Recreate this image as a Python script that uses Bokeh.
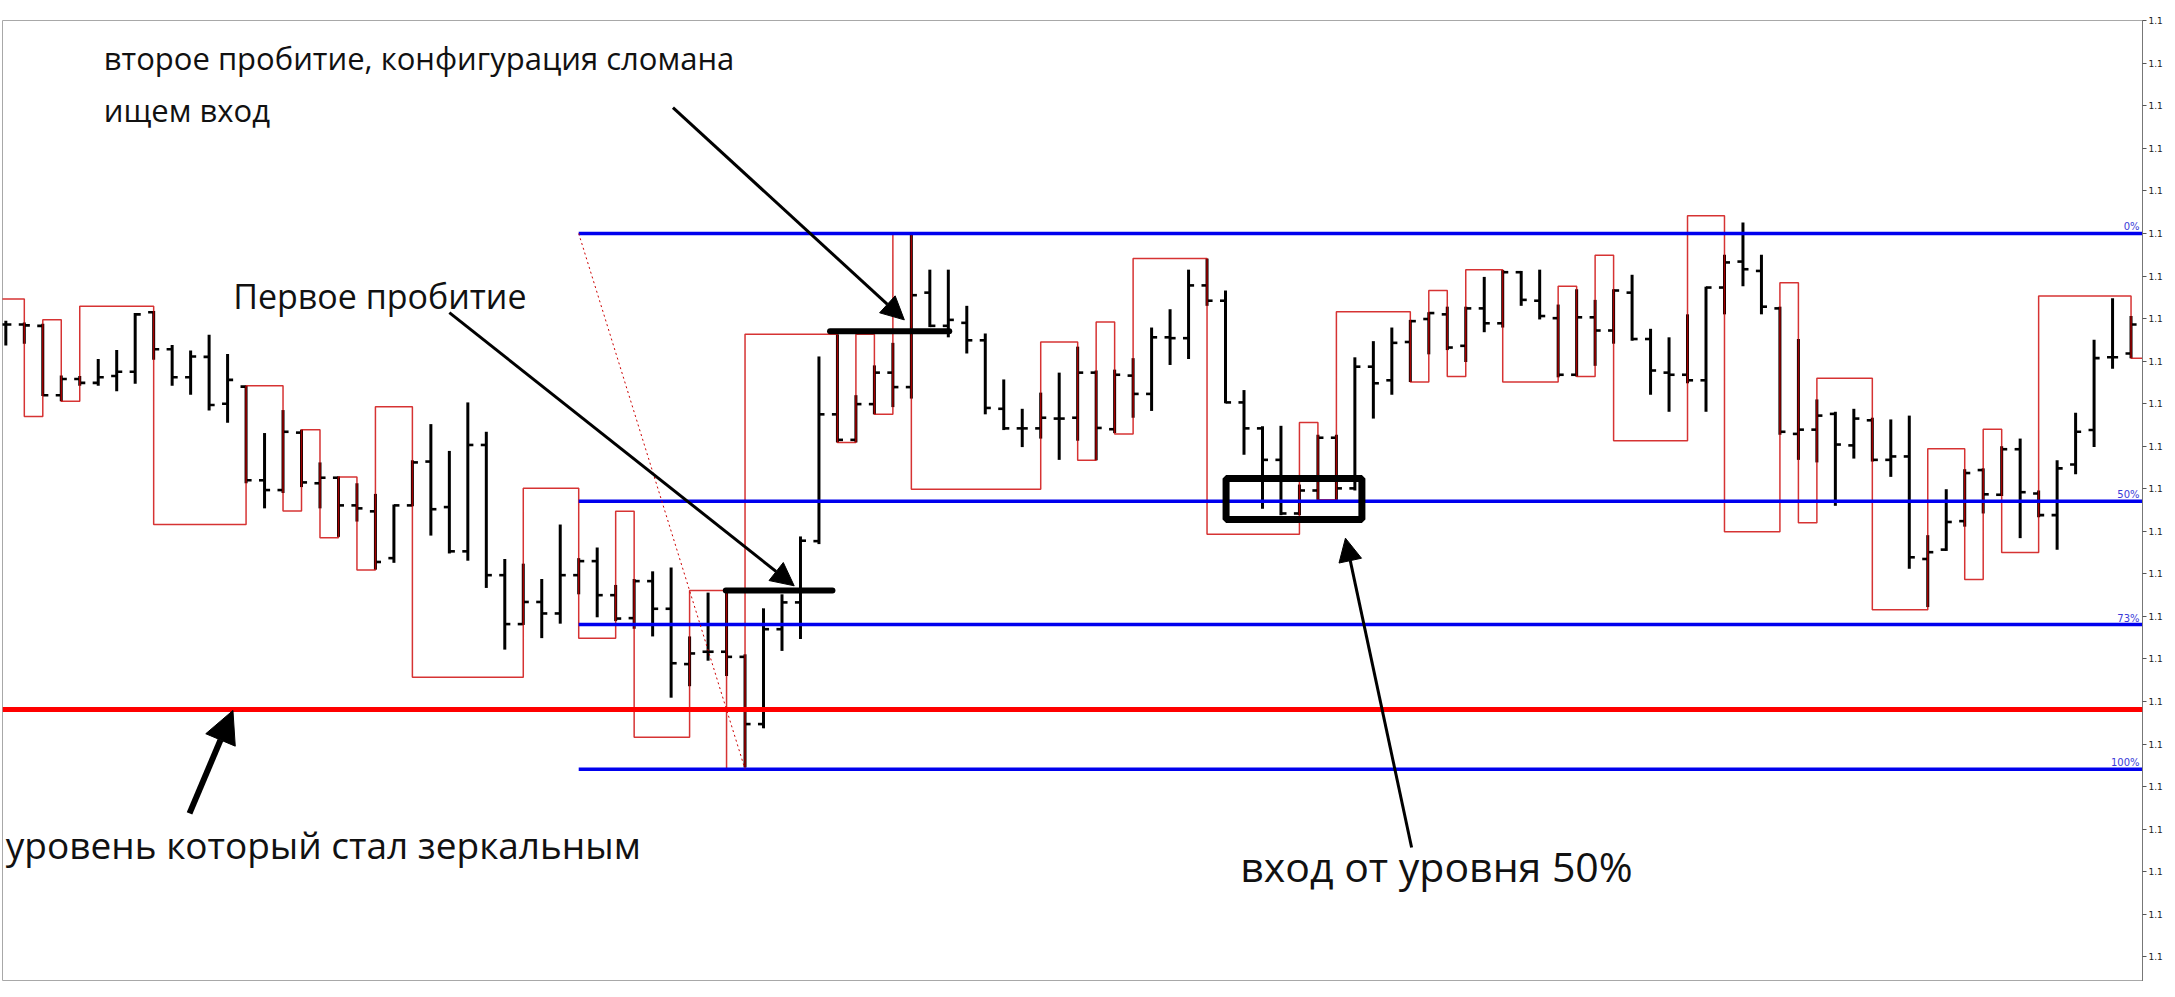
import numpy as np
from bokeh.plotting import figure
from bokeh.models import (Range1d, LinearAxis, FixedTicker, PrintfTickFormatter,
                          Span, Arrow, NormalHead, ColumnDataSource)
from bokeh.core.properties import value
from bokeh.embed import file_html
from bokeh.resources import INLINE

# ---------------- data (prices expressed in pips from the 0% Fibonacci level) ----------------
BASE_PRICE = 1.1340      # price of the 0 % Fibonacci level
PIP = 0.0001

bar_open = [-21.4, -21.4, -21.7, -38.0, -34.2, -35.1, -33.5, -32.5, -18.5, -27.2,
            -33.8, -29.0, -40.0, -36.0, -58.0, -60.3, -46.8, -58.7, -57.4, -63.9,
            -65.3, -76.3, -63.9, -53.6, -64.3, -74.7, -49.7, -80.3, -91.8, -86.6,
            -89.3, -80.3, -77.0, -85.0, -90.4, -81.7, -88.2, -101.2, -98.3, -98.3,
            -99.5, -115.3, -93.0, -86.7, -72.3, -42.5, -48.5, -40.1, -32.7, -36.1,
            -13.9, -21.7, -21.0, -25.1, -41.2, -45.8, -45.8, -43.5, -43.3, -32.7,
            -46.0, -33.4, -37.7, -24.4, -24.6, -12.2, -15.8, -39.7, -45.8, -53.2,
            -65.8, -60.4, -48.0, -59.9, -31.3, -34.5, -25.5, -20.1, -19.0, -26.4,
            -17.6, -21.1, -9.1, -15.8, -19.9, -33.2, -19.7, -22.8, -13.9, -24.8,
            -32.7, -33.2, -34.5, -12.7, -6.6, -8.8, -17.6, -47.1, -46.1, -42.4,
            -49.8, -43.9, -53.2, -52.4, -76.5, -74.3, -67.6, -55.6, -61.4, -50.7,
            -61.1, -66.2, -54.3, -46.2, -29.1, -28.2]
bar_high = [-20.5, -20.9, -21.2, -33.4, -33.5, -29.5, -27.4, -18.7, -18.2, -26.2,
            -27.5, -23.8, -28.3, -35.8, -46.9, -41.5, -46.1, -53.8, -57.1, -58.7,
            -61.2, -63.7, -53.3, -44.8, -51.1, -39.7, -46.6, -76.5, -77.6, -81.2,
            -68.4, -76.3, -73.8, -82.6, -81.2, -79.4, -78.5, -94.7, -84.4, -84.5,
            -98.9, -88.1, -84.8, -71.2, -28.9, -23.7, -38.0, -31.0, -25.7, 0.0,
            -8.5, -8.5, -17.0, -23.5, -34.3, -41.2, -37.4, -32.7, -26.6, -32.2,
            -32.0, -29.3, -22.1, -17.8, -8.5, -5.9, -13.4, -36.8, -45.3, -45.2,
            -59.0, -47.3, -47.3, -29.1, -25.3, -22.1, -20.3, -18.5, -17.2, -17.2,
            -10.2, -8.6, -8.8, -8.5, -16.7, -13.1, -15.6, -13.1, -9.7, -22.4,
            -24.4, -19.0, -12.5, -5.0, 2.6, -5.0, -17.2, -24.8, -39.0, -41.9,
            -41.2, -43.3, -43.7, -42.8, -70.9, -60.1, -55.4, -55.2, -50.0, -48.2,
            -60.4, -53.3, -42.1, -25.0, -15.2, -19.4]
bar_low = [-26.3, -25.9, -38.2, -39.4, -35.8, -35.8, -37.1, -35.3, -29.7, -35.8,
           -37.9, -41.6, -44.5, -58.7, -64.6, -61.0, -59.6, -64.6, -71.3, -67.7,
           -79.0, -77.4, -64.1, -71.0, -75.2, -76.9, -83.3, -97.8, -92.0, -95.1,
           -91.7, -84.8, -90.2, -91.1, -92.9, -94.7, -109.1, -106.4, -100.4, -104.0,
           -125.5, -116.3, -98.1, -95.3, -73.0, -49.1, -49.1, -42.5, -40.8, -38.8,
           -22.0, -24.4, -28.2, -42.5, -46.2, -50.2, -48.2, -53.2, -48.7, -53.3,
           -46.9, -43.3, -41.7, -30.9, -29.5, -17.0, -39.9, -52.0, -64.7, -66.2,
           -66.2, -62.6, -62.6, -60.4, -43.5, -37.9, -34.9, -28.4, -27.4, -30.2,
           -23.2, -22.1, -17.0, -20.2, -33.8, -33.6, -31.1, -25.9, -25.2, -37.9,
           -41.9, -35.2, -41.9, -19.0, -12.4, -19.0, -47.3, -53.2, -53.8, -64.0,
           -52.9, -53.6, -57.2, -78.8, -87.8, -74.6, -68.9, -65.8, -61.7, -71.6,
           -66.7, -74.3, -56.6, -50.2, -31.8, -29.3]
bar_close = [-21.4, -21.6, -38.0, -34.2, -35.1, -33.8, -32.5, -19.0, -27.2, -33.8,
             -28.9, -40.3, -34.4, -58.0, -60.3, -46.6, -58.5, -57.4, -63.9, -64.6,
             -77.2, -63.9, -53.8, -64.8, -74.7, -49.7, -80.3, -91.8, -86.6, -89.3,
             -80.3, -77.0, -85.0, -90.5, -81.7, -88.2, -101.0, -98.7, -98.3, -99.5,
             -115.3, -93.0, -86.7, -72.2, -42.5, -48.5, -40.1, -32.7, -36.1, -14.5,
             -21.7, -20.3, -25.1, -41.0, -45.8, -45.8, -43.3, -43.5, -32.7, -45.7,
             -33.2, -37.7, -24.4, -24.6, -12.2, -15.8, -39.7, -45.8, -53.2, -65.8,
             -60.4, -48.0, -59.9, -31.3, -35.2, -25.7, -20.6, -18.7, -26.8, -17.6,
             -21.1, -9.1, -15.6, -19.4, -33.2, -19.7, -22.8, -13.4, -24.8, -32.2,
             -33.2, -34.5, -12.7, -6.8, -8.4, -17.2, -46.6, -46.1, -42.8, -49.6,
             -43.5, -53.2, -52.4, -76.1, -74.9, -67.8, -56.3, -61.3, -50.7, -60.8,
             -66.2, -55.2, -46.6, -29.3, -29.1, -21.4]

# red stepped line (bar index where each level starts, level)
step_bar = [-1, 1, 2, 3, 4, 8, 13, 15, 16, 17, 18, 19, 20, 22, 28, 31, 33, 34, 37, 39,
            40, 45, 46, 47, 48, 49, 56, 58, 59, 60, 61, 65, 70, 71, 72, 76, 77, 78, 79, 81,
            84, 85, 86, 87, 91, 93, 96, 97, 98, 101, 104, 106, 107, 108, 110, 115, 117]
step_level = [-15.4, -43.0, -20.3, -39.4, -17.1, -68.4, -35.8, -65.2, -46.1, -71.5,
              -57.2, -79.1, -40.7, -104.3, -59.9, -95.1, -65.3, -118.4, -83.9, -125.9,
              -23.7, -49.1, -23.7, -42.5, 0.0, -60.1, -25.5, -53.3, -20.8, -47.1,
              -5.9, -70.7, -44.4, -62.6, -18.4, -34.9, -13.4, -33.6, -8.5, -34.9,
              -12.4, -33.6, -5.1, -48.7, 4.2, -70.1, -11.6, -68.0, -34.0, -88.4,
              -50.6, -81.3, -46.0, -75.0, -14.7, -29.3, -29.3]

# Fibonacci grid
fib_high = 0.0
fib_low = -125.9
fib_ratios = [0.0, 0.5, 0.73, 1.0]
fib_labels = ["0%", "50%", "73%", "100%"]
fib_start_bar = 31
fib_end_bar = 40

mirror_level = -111.9          # thick red level

# thick black breakout marks
mark_x0 = [38.96, 44.6]
mark_x1 = [44.73, 51.05]
mark_level = [-83.9, -23.0]

# entry box
box_left, box_right, box_top, box_bottom = 66.03, 73.38, -57.6, -67.2

# arrows: (x_start, y_start, x_end, y_end, width)
arrow_x0 = [36.1, 24.0, 9.94, 76.07]
arrow_y0 = [29.6, -18.6, -136.3, -144.3]
arrow_x1 = [48.62, 42.66, 12.29, 72.49]
arrow_y1 = [-20.3, -82.8, -112.1, -71.6]
arrow_w = [3, 3, 6, 3]

# texts
note_text = ["второе пробитие, конфигурация сломана", "ищем вход", "Первое пробитие",
             "уровень который стал зеркальным", "вход от уровня 50%"]
note_x = [5.3, 5.3, 12.3, 0.0, 66.8]
note_y = [41.2, 29.0, -14.6, -143.5, -148.6]
note_size = ["31px", "31px", "34px", "37px", "41px"]

price_ticks = [1.117, 1.118, 1.119, 1.120, 1.121, 1.122, 1.123, 1.124, 1.125, 1.126, 1.127,
               1.128, 1.129, 1.130, 1.131, 1.132, 1.133, 1.134, 1.135, 1.136, 1.137, 1.138, 1.139]

# ---------------- helpers ----------------
def price(a):
    return BASE_PRICE + np.asarray(a, dtype=float) * PIP

X_START, X_END = -0.18, 115.62
Y_LOW, Y_HIGH = -175.8, 50.06
TICK = 0.3

p = figure(frame_width=2140, frame_height=961,
           x_range=Range1d(X_START, X_END), y_range=Range1d(price(Y_LOW), price(Y_HIGH)),
           output_backend="svg", toolbar_location=None,
           x_axis_location=None, y_axis_location=None,
           min_border_left=2, min_border_right=0, min_border_top=20, min_border_bottom=0,
           background_fill_color="white", border_fill_color="white")
p.outline_line_color = "#a8a8a8"
p.outline_line_width = 1
for g in p.grid:
    g.visible = False

yaxis = LinearAxis(ticker=FixedTicker(ticks=price_ticks), formatter=PrintfTickFormatter(format="1.1"))
yaxis.axis_line_color = "#777777"
yaxis.major_tick_in = 0
yaxis.major_tick_out = 4
yaxis.major_tick_line_color = "#555555"
yaxis.minor_tick_line_color = None
yaxis.major_label_text_font = "DejaVu Sans"
yaxis.major_label_text_font_size = "9px"
yaxis.major_label_text_color = "#222222"
yaxis.major_label_standoff = 2
p.add_layout(yaxis, "right")

# OHLC bars
bars = np.arange(len(bar_open))
src = ColumnDataSource(dict(x=bars, xo=bars - TICK, xc=bars + TICK,
                            o=price(bar_open), h=price(bar_high),
                            l=price(bar_low), c=price(bar_close)))
p.segment("x", "l", "x", "h", source=src, line_color="black", line_width=3)
p.segment("xo", "o", "x", "o", source=src, line_color="black", line_width=2.6)
p.segment("x", "c", "xc", "c", source=src, line_color="black", line_width=2.6)

# red stepped line
p.step(x=step_bar, y=price(step_level), mode="after",
       line_color="#cc0000", line_width=1.5, line_alpha=0.8)

# Fibonacci levels
fib_prices = price([fib_high - r * (fib_high - fib_low) for r in fib_ratios])
p.ray(x=[fib_start_bar] * len(fib_prices), y=fib_prices, length=0, angle=0,
      line_color="#0000ee", line_width=3.5)
p.segment(x0=[fib_start_bar], y0=[price(fib_high)], x1=[fib_end_bar], y1=[price(fib_low)],
          line_color="#cc0000", line_width=1, line_dash="2 3")
p.text(x=[X_END] * len(fib_prices), y=fib_prices, text=fib_labels,
       text_align="right", text_baseline="bottom", x_offset=-3, y_offset=-1,
       text_font=value("DejaVu Sans"), text_font_size="10px", text_color="#3a3ad8")

# mirror level
mirror_price = float(price(mirror_level))
p.add_layout(Span(location=mirror_price, dimension="width",
                  line_color="#ff0000", line_width=5))

# breakout marks
p.segment(x0=mark_x0, y0=price(mark_level), x1=mark_x1, y1=price(mark_level),
          line_color="black", line_width=6, line_cap="round")

# entry box
p.quad(left=[box_left], right=[box_right], top=[price(box_top)], bottom=[price(box_bottom)],
       fill_alpha=0, line_color="black", line_width=7)

# arrows
for x0, y0, x1, y1, w in zip(arrow_x0, arrow_y0, arrow_x1, arrow_y1, arrow_w):
    head = NormalHead(size=14 + 3 * w, fill_color="black", line_color="black", line_width=1)
    p.add_layout(Arrow(end=head, x_start=x0, y_start=float(price(y0)),
                       x_end=x1, y_end=float(price(y1)),
                       line_color="black", line_width=w))

# texts
note_src = ColumnDataSource(dict(x=note_x, y=price(note_y), text=note_text, size=note_size))
p.text(x="x", y="y", text="text", source=note_src, text_baseline="middle", text_align="left",
       text_font=value("Open Sans"), text_font_size="size", text_color="#111111")

open("out.html", "w").write(file_html(p, INLINE))
